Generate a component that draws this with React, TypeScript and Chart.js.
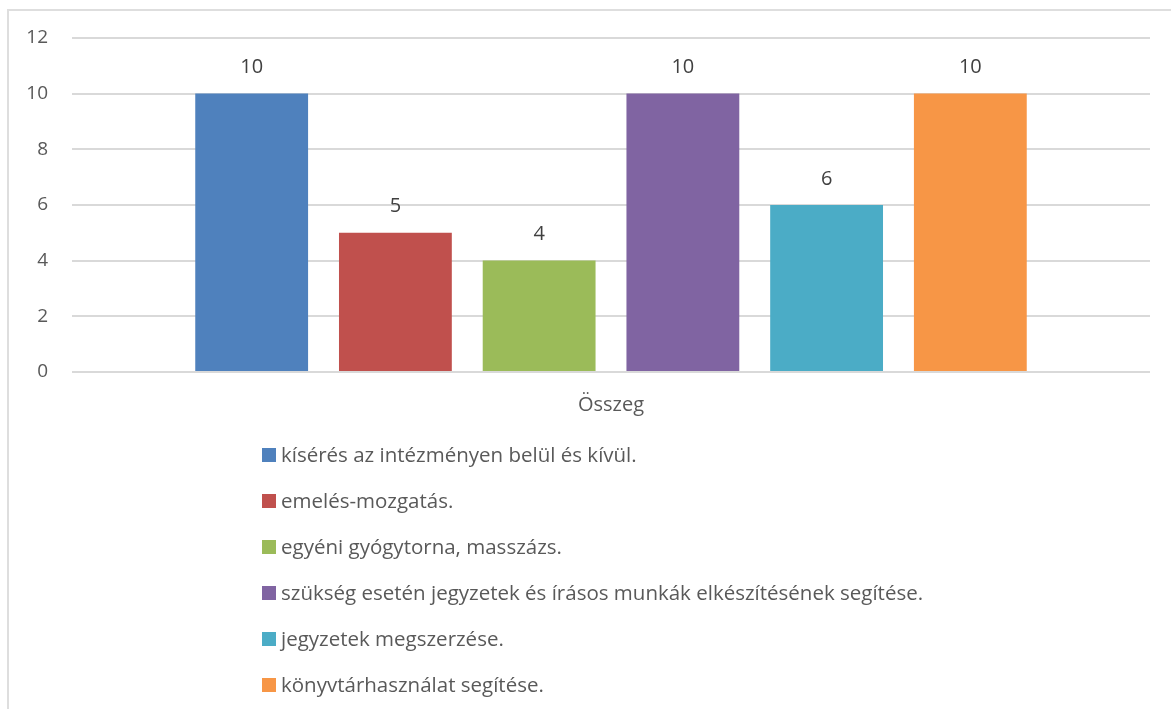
import React, { useEffect, useRef } from "react";
import { Chart, registerables } from "chart.js";

Chart.register(...registerables);

const categories = ["Összeg"];
const seriesNames = [
  "kísérés az intézményen belül és kívül.",
  "emelés-mozgatás.",
  "egyéni gyógytorna, masszázs.",
  "szükség esetén jegyzetek és írásos munkák elkészítésének segítése.",
  "jegyzetek megszerzése.",
  "könyvtárhasználat segítése.",
];
const seriesValues = [10, 5, 4, 10, 6, 10];
const seriesColors = ["#4F81BD", "#C0504D", "#9BBB59", "#8064A2", "#4BACC6", "#F79646"];
const yMin = 0;
const yMax = 12;
const yStep = 2;

const FONT = "'Open Sans', 'Noto Sans', sans-serif";
const TEXT = "#595959";

const CANVAS_W = 1162;
const CANVAS_H = 698;

const valueLabelPlugin = {
  id: "valueLabels",
  afterDatasetsDraw(chart: any) {
    const ctx = chart.ctx;
    ctx.save();
    ctx.font = `20px ${FONT}`;
    ctx.fillStyle = "#404040";
    ctx.textAlign = "center";
    ctx.textBaseline = "middle";
    chart.data.datasets.forEach((ds: any, i: number) => {
      const meta = chart.getDatasetMeta(i);
      meta.data.forEach((el: any, j: number) => {
        ctx.fillText(String(ds.data[j]), el.x, el.y - 26);
      });
    });
    ctx.restore();
  },
};

const bottomLegendPlugin = {
  id: "bottomLegend",
  afterDraw(chart: any) {
    const ctx = chart.ctx;
    ctx.save();
    ctx.font = `20.5px ${FONT}`;
    ctx.textBaseline = "middle";
    ctx.textAlign = "left";
    const box = 14;
    const gap = 5;
    const left = 253;
    const top = 444;
    const rowH = 46;
    chart.data.datasets.forEach((d: any, i: number) => {
      const cy = top + i * rowH;
      ctx.fillStyle = d.backgroundColor;
      ctx.fillRect(left, cy - box / 2, box, box);
      ctx.fillStyle = TEXT;
      ctx.fillText(d.label, left + box + gap, cy + 1);
    });
    ctx.restore();
  },
};

export default function App() {
  const canvasRef = useRef<HTMLCanvasElement | null>(null);

  useEffect(() => {
    document.body.style.overflow = "hidden";
    const canvas = canvasRef.current;
    if (!canvas) return;
    const chart = new Chart(canvas, {
      type: "bar",
      data: {
        labels: categories,
        datasets: seriesNames.map((name, i) => ({
          label: name,
          data: [seriesValues[i]],
          backgroundColor: seriesColors[i],
          categoryPercentage: 0.8,
          barPercentage: 0.785,
        })),
      },
      options: {
        responsive: false,
        animation: false,
        devicePixelRatio: 1,
        layout: { padding: { left: 0, top: 0, right: 21, bottom: 698 - 361 - 60 } },
        plugins: {
          legend: { display: false },
          tooltip: { enabled: false },
        },
        scales: {
          x: {
            grid: { display: false },
            border: { display: false },
            ticks: { color: TEXT, font: { family: FONT, size: 20 }, padding: 13 },
            afterFit: (s: any) => {
              s.height = 60;
            },
          },
          y: {
            min: yMin,
            max: yMax,
            ticks: {
              stepSize: yStep,
              color: TEXT,
              font: { family: FONT, size: 19, lineHeight: 0.3 },
              padding: 24,
            },
            grid: { color: "#d9d9d9", lineWidth: 2, drawTicks: false },
            border: { display: false },
            afterFit: (s: any) => {
              s.width = 63;
            },
          },
        },
      },
      plugins: [valueLabelPlugin, bottomLegendPlugin],
    });
    return () => chart.destroy();
  }, []);

  return (
    <div
      style={{
        position: "fixed",
        left: 7,
        top: 9,
        width: 1171 - 7,
        height: 709 - 9,
        borderLeft: "2px solid #dedede",
        borderTop: "2px solid #dedede",
        boxSizing: "border-box",
        background: "#fff",
        overflow: "hidden",
      }}
    >
      <canvas ref={canvasRef} width={CANVAS_W} height={CANVAS_H} style={{ display: "block" }} />
    </div>
  );
}
